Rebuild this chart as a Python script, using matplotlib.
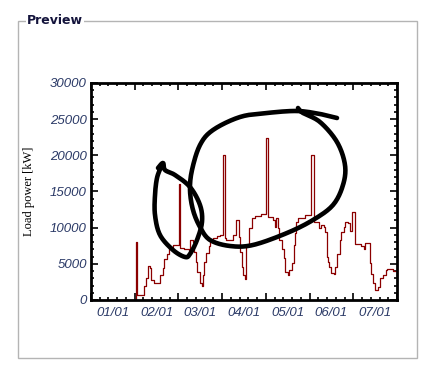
import matplotlib

matplotlib.use("Agg")
import matplotlib.pyplot as plt
import numpy as np
from matplotlib.lines import Line2D
from matplotlib.patches import Rectangle
from matplotlib.transforms import blended_transform_factory

DAYS = [0, 31, 32, 37, 38, 40, 41, 42, 44, 48, 50, 51, 53, 54, 57,
        61, 62, 65, 68, 69, 71, 72, 73, 74, 76, 77, 78, 79, 80, 82, 83, 85, 88, 90,
        92, 93, 94, 99, 101, 103, 104, 105, 106, 107, 108, 110, 112, 114, 118,
        122, 123, 127, 128, 129, 130, 131, 133, 134, 135, 137, 138, 140, 141, 142, 143, 144,
        149, 153, 155, 159, 160, 162, 163, 164, 165, 166, 167, 169, 170, 171, 173, 174,
        176, 177, 179, 180, 182, 184, 188, 190, 191, 194, 195, 196, 198, 200, 201, 203,
        205, 206, 210, 213]
LOAD_KW = [0, 8000, 700, 1900, 3000, 4700, 4400, 2800, 2300, 3400, 4400, 5600, 6400, 7300, 7600,
           16000, 7200, 7000, 6800, 8300, 8000, 6700, 5300, 3900, 2400, 2000, 3500, 5300, 6500, 7400, 8300, 8600, 8800, 9000,
           20000, 8600, 8300, 9000, 11000, 8700, 6700, 4600, 3500, 2900, 7400, 9900, 11300, 11600, 11900,
           22400, 11500, 11100, 10100, 11400, 9900, 8300, 7100, 5800, 3900, 3500, 4100, 5100, 7600, 9200, 10800, 11400,
           11700, 20000, 10800, 9900, 10400, 10100, 9400, 6000, 5300, 4600, 3800, 3600, 4600, 6400, 8300, 9400,
           10100, 10800, 10600, 9500, 12200, 7800, 7500, 7100, 7900, 5100, 3600, 2300, 1400, 1800, 3000, 3500,
           4200, 4300, 4000, 4000]

MONTH_LABELS = ["01/01", "02/01", "03/01", "04/01", "05/01", "06/01", "07/01"]
X_MAX = 213
Y_MAX = 30000

# hand-drawn marker strokes over the screenshot (pixel coords)
SCRIBBLE_LEFT = [(158, 168), (163, 163), (165, 170), (175, 175), (190, 187), (200, 205),
                 (202, 222), (197, 240), (190, 254), (185, 257), (173, 250), (160, 235),
                 (155, 215), (155, 195), (157, 178), (161, 167)]
SCRIBBLE_BIG = [(337, 118), (320, 114), (297, 111), (267, 113), (240, 117), (213, 130),
                (200, 145), (192, 170), (190, 190), (193, 210), (200, 227), (210, 240),
                (230, 246), (253, 245), (287, 233), (313, 220), (333, 205), (343, 185),
                (345, 165), (337, 142), (320, 122), (303, 113), (298, 108)]


def smooth_stroke(points, n=12):
    """Catmull-Rom through the stroke points so the pen line looks hand drawn."""
    p = np.array(points, dtype=float)
    p = np.vstack([p[0], p, p[-1]])
    out = []
    t = np.linspace(0, 1, n, endpoint=False)[:, None]
    for i in range(1, len(p) - 2):
        p0, p1, p2, p3 = p[i - 1], p[i], p[i + 1], p[i + 2]
        out.append(0.5 * ((2 * p1) + (-p0 + p2) * t + (2 * p0 - 5 * p1 + 4 * p2 - p3) * t ** 2
                          + (-p0 + 3 * p1 - 3 * p2 + p3) * t ** 3))
    out.append(p[-2][None, :])
    return np.vstack(out)


W, H = 427, 372
fig = plt.figure(figsize=(W / 100, H / 100), dpi=100)
fig.patch.set_facecolor("white")

# group box frame
box = Rectangle((18 / W, 1 - 358 / H), (417 - 18) / W, (358 - 21) / H,
                transform=fig.transFigure, fill=False, edgecolor="#b4b4b4", linewidth=1.0)
fig.add_artist(box)
fig.text(27 / W, 1 - 21 / H, "Preview", fontsize=9, fontweight="bold", color="#14143c",
         ha="left", va="center", family="DejaVu Sans",
         bbox=dict(facecolor="white", edgecolor="none", pad=0.5))

ax = fig.add_axes([91 / W, 1 - 300 / H, 306 / W, 217 / H])
ax.plot(DAYS, LOAD_KW, drawstyle="steps-post", color="#8b0000", linewidth=0.9)
ax.set_xlim(0, X_MAX)
ax.set_ylim(0, Y_MAX)

for s in ax.spines.values():
    s.set_linewidth(2.0)
    s.set_color("black")

month_edges = np.linspace(0, X_MAX, len(MONTH_LABELS) + 1)
ax.set_xticks(month_edges)
ax.set_xticks(np.linspace(0, X_MAX, len(MONTH_LABELS) * 5 + 1), minor=True)
ax.set_xticklabels([])
ax.set_yticks(np.arange(0, Y_MAX + 1, 5000))
ax.set_yticks(np.arange(0, Y_MAX + 1, 1000), minor=True)
ax.tick_params(which="both", direction="in", top=True, right=True, width=1.2, color="black")
ax.tick_params(which="major", length=5)
ax.tick_params(which="minor", length=2.5)
ax.tick_params(axis="y", labelsize=9.5, labelcolor="#2b3a67", pad=3)
for lab in ax.get_yticklabels():
    lab.set_fontstyle("italic")
    lab.set_family("Liberation Sans")

trans = blended_transform_factory(ax.transData, ax.transAxes)
mids = (month_edges[:-1] + month_edges[1:]) / 2
for m, lab in zip(mids, MONTH_LABELS):
    ax.text(m, -0.06, lab, transform=trans, ha="center", va="center", fontsize=9.5,
            fontstyle="italic", family="Liberation Sans", color="#2b3a67")

fig.text(29 / W, 1 - 191 / H, "Load power [kW]", rotation=90, ha="center", va="center",
         fontsize=9, family="Liberation Serif", color="black")

for stroke in (SCRIBBLE_LEFT, SCRIBBLE_BIG):
    pts = smooth_stroke(stroke)
    fig.add_artist(Line2D(pts[:, 0] / W, 1 - pts[:, 1] / H, transform=fig.transFigure,
                          color="black", linewidth=3.3,
                          solid_capstyle="round", solid_joinstyle="round"))

fig.savefig("out.png", dpi=100, facecolor="white")
